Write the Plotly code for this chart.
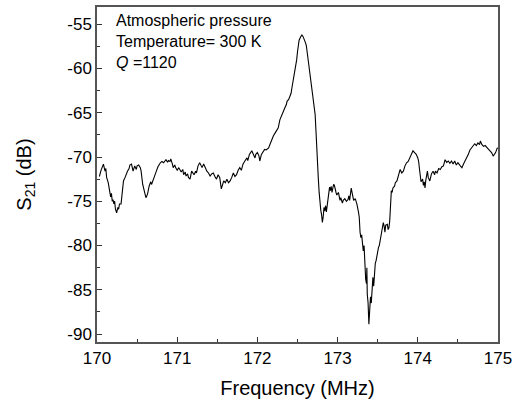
import plotly.graph_objects as go

freq = [170.03,170.05,170.08,170.10,170.11,170.12,170.14,170.15,170.17,170.18,170.19,170.20,170.21,170.22,170.23,170.245,170.26,170.27,170.28,170.30,
170.31,170.33,170.35,170.36,170.38,170.40,170.41,170.43,170.44,170.45,170.47,170.49,170.50,170.52,170.54,170.55,170.57,170.59,170.61,170.62,
170.63,170.65,170.66,170.67,170.68,170.70,170.72,170.74,170.76,170.79,170.81,170.83,170.85,170.86,170.88,170.89,170.91,170.92,170.94,170.95,
170.97,170.98,171.00,171.02,171.05,171.07,171.08,171.10,171.11,171.13,171.14,171.16,171.18,171.20,171.21,171.23,171.24,171.26,171.28,171.30,
171.31,171.33,171.35,171.37,171.39,171.41,171.43,171.45,171.47,171.49,171.51,171.53,171.55,171.57,171.58,171.60,171.62,171.64,171.66,171.68,
171.70,171.72,171.74,171.76,171.78,171.80,171.82,171.84,171.87,171.88,171.90,171.93,171.95,171.97,171.98,172.00,172.02,172.03,172.05,172.07,
172.09,172.11,172.14,172.16,172.18,172.20,172.22,172.24,172.26,172.28,172.30,172.32,172.34,172.36,172.37,172.39,172.41,172.42,172.43,172.44,
172.46,172.47,172.49,172.50,172.51,172.52,172.54,172.555,172.57,172.58,172.60,172.61,172.63,172.65,172.66,172.68,172.70,172.72,172.73,172.74,
172.75,172.76,172.77,172.78,172.79,172.80,172.81,172.82,172.83,172.84,172.85,172.86,172.87,172.88,172.89,172.90,172.91,172.92,172.93,172.94,
172.95,172.96,172.97,172.98,172.99,173.01,173.03,173.04,173.06,173.07,173.09,173.11,173.13,173.14,173.15,173.17,173.18,173.20,173.22,173.24,
173.26,173.27,173.28,173.29,173.30,173.31,173.32,173.33,173.34,173.35,173.36,173.365,173.37,173.38,173.39,173.40,173.41,173.42,173.43,173.44,
173.45,173.46,173.47,173.48,173.49,173.50,173.51,173.52,173.53,173.54,173.55,173.57,173.58,173.59,173.60,173.62,173.63,173.64,173.65,173.66,
173.67,173.68,173.69,173.71,173.72,173.74,173.76,173.78,173.80,173.82,173.84,173.86,173.88,173.90,173.92,173.94,173.96,173.98,174.00,174.01,
174.02,174.03,174.04,174.06,174.07,174.08,174.09,174.10,174.12,174.13,174.15,174.17,174.19,174.21,174.22,174.24,174.26,174.28,174.30,174.32,
174.34,174.36,174.38,174.40,174.42,174.44,174.46,174.48,174.50,174.53,174.55,174.57,174.59,174.61,174.63,174.65,174.67,174.69,174.71,174.73,
174.75,174.77,174.78,174.80,174.82,174.84,174.86,174.88,174.90,174.92,174.94,174.96,174.97,174.99,175.00]

s21 = [-72.2,-71.5,-70.8,-71.6,-71.3,-72.3,-72.9,-73.5,-74.5,-74.1,-75.0,-74.8,-75.3,-75.0,-75.9,-76.3,-75.7,-75.9,-75.3,-75.3,
-74.3,-72.7,-72.3,-72.0,-71.6,-71.3,-70.9,-70.8,-71.3,-71.6,-71.0,-71.4,-71.0,-70.9,-71.2,-71.6,-73.1,-74.0,-74.6,-74.4,
-74.2,-73.3,-73.0,-72.8,-73.1,-72.7,-72.1,-71.6,-71.1,-70.65,-70.5,-70.65,-70.4,-70.3,-70.6,-70.4,-70.5,-70.2,-70.8,-71.2,
-70.9,-71.2,-71.5,-71.2,-71.7,-71.4,-72.0,-71.7,-72.15,-71.9,-72.3,-72.5,-71.6,-71.9,-72.0,-71.6,-71.8,-71.0,-70.65,-71.0,
-71.2,-70.8,-71.3,-71.6,-71.8,-72.15,-71.9,-71.8,-72.2,-72.5,-72.0,-72.3,-73.6,-72.9,-72.7,-72.9,-72.5,-72.9,-72.7,-72.3,
-71.8,-72.2,-72.0,-71.5,-71.2,-71.5,-70.8,-70.5,-70.1,-70.4,-69.7,-69.3,-69.8,-70.1,-69.7,-69.5,-69.9,-70.45,-69.7,-69.4,
-69.15,-69.2,-68.97,-68.5,-68.0,-67.6,-67.3,-67.0,-66.7,-65.8,-65.3,-64.85,-64.5,-64.1,-63.7,-63.5,-63.1,-62.8,-62.2,-61.7,
-60.8,-60.0,-59.0,-58.1,-57.4,-56.8,-56.4,-56.2,-56.4,-56.6,-57.1,-57.4,-58.9,-59.8,-60.7,-62.6,-63.9,-65.2,-67.0,-69.3,
-70.8,-72.5,-74.0,-75.5,-76.0,-76.5,-77.4,-76.8,-75.7,-76.1,-75.5,-76.2,-75.4,-74.8,-73.8,-73.4,-73.8,-73.3,-74.0,-73.5,
-73.1,-73.2,-73.8,-74.0,-74.3,-74.0,-74.9,-74.6,-75.2,-74.9,-74.7,-75.0,-74.8,-74.4,-74.9,-73.5,-74.0,-74.9,-74.7,-75.3,
-76.2,-76.8,-78.5,-79.1,-78.8,-80.2,-80.6,-80.0,-82.5,-83.8,-84.3,-82.5,-85.5,-86.5,-88.9,-87.5,-85.8,-86.5,-84.0,-83.6,
-84.6,-83.0,-82.0,-81.7,-81.0,-80.6,-80.2,-80.0,-79.4,-79.1,-78.6,-77.4,-77.8,-78.5,-77.7,-77.6,-78.2,-78.0,-77.2,-75.5,
-73.8,-74.0,-73.5,-73.3,-72.9,-72.7,-72.0,-71.4,-71.8,-71.6,-71.0,-70.65,-70.5,-70.1,-69.9,-69.3,-69.5,-69.7,-70.1,-70.45,
-71.3,-72.15,-72.8,-72.5,-73.2,-72.8,-73.5,-72.6,-71.6,-72.3,-72.7,-71.9,-71.6,-72.0,-71.6,-71.8,-71.3,-71.4,-71.1,-71.0,
-70.3,-70.6,-70.45,-70.7,-70.45,-70.8,-70.45,-70.9,-70.65,-71.0,-71.2,-70.8,-70.45,-70.0,-69.7,-69.2,-68.97,-68.7,-68.5,-68.7,
-68.4,-68.6,-68.2,-68.6,-68.8,-68.7,-68.97,-69.1,-69.3,-69.5,-69.9,-69.6,-69.5,-69.0,-68.97]

x_ticks = [170, 171, 172, 173, 174, 175]
y_ticks = [-90, -85, -80, -75, -70, -65, -60, -55]
notes = ["Atmospheric pressure", "Temperature= 300 K", "<i>Q</i> =1120"]

FONT = "Liberation Sans, Arial, sans-serif"

fig = go.Figure()
fig.add_trace(go.Scatter(x=freq, y=s21, mode="lines",
                         line=dict(color="black", width=1.1), showlegend=False))

axis_common = dict(showline=True, mirror=True, linecolor="#555", linewidth=1.5,
                   ticks="inside", ticklen=5, tickwidth=1.2, tickcolor="#333",
                   showgrid=False, zeroline=False,
                   tickfont=dict(family=FONT, size=17, color="black"))

fig.update_xaxes(range=[170, 175], tickvals=x_ticks,
                 ticktext=[str(v) for v in x_ticks],
                 minor=dict(ticks="inside", ticklen=3, dtick=0.5, tickcolor="#333", showgrid=False),
                 title=dict(text="Frequency (MHz)", font=dict(family=FONT, size=20, color="black"), standoff=14),
                 **axis_common)
fig.update_yaxes(range=[-90.9, -53.05], tickvals=y_ticks,
                 ticktext=[str(v) for v in y_ticks],
                 minor=dict(ticks="inside", ticklen=3, dtick=2.5, tickcolor="#333", showgrid=False),
                 title=dict(text="S<sub>21</sub> (dB)", font=dict(family=FONT, size=20, color="black"), standoff=30),
                 **axis_common)

fig.add_annotation(xref="paper", yref="paper", x=0.043, y=0.99,
                   xanchor="left", yanchor="top", align="left", showarrow=False,
                   text="<br>".join(notes),
                   font=dict(family=FONT, size=16, color="black"))

fig.update_layout(width=523, height=409, margin=dict(l=97, r=25, t=5, b=67),
                  plot_bgcolor="white", paper_bgcolor="white")

fig.write_html("out.html")
